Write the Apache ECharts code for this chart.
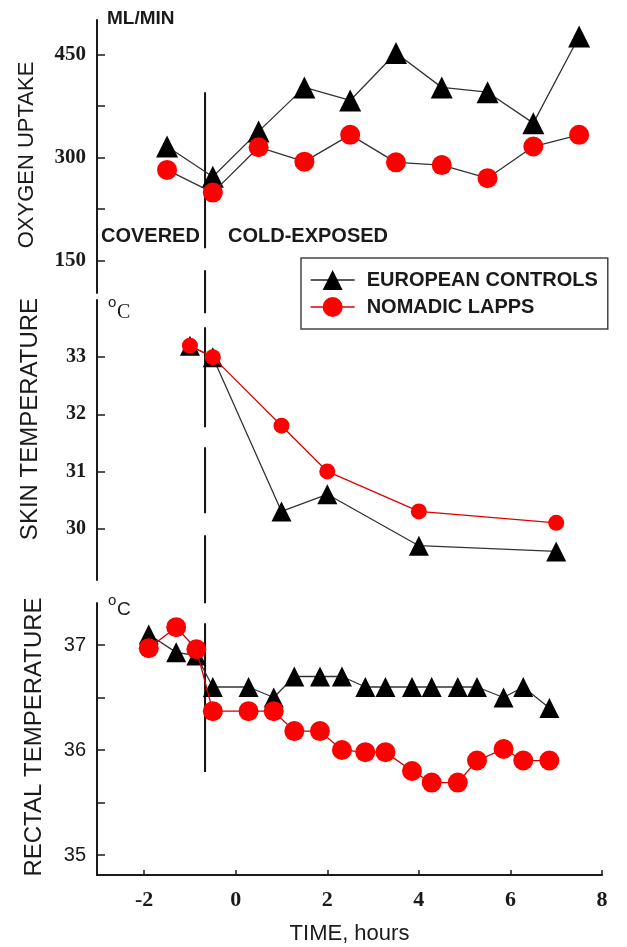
<!DOCTYPE html>
<html>
<head>
<meta charset="utf-8">
<script src="https://cdn.jsdelivr.net/npm/echarts@6/dist/echarts.min.js"></script>
<style>
html,body{margin:0;padding:0;background:#fff;}
#chart{width:627px;height:947px;}
</style>
</head>
<body>
<div id="chart"></div>
<script>
// ---- data ----
const legendNames = ['EUROPEAN CONTROLS', 'NOMADIC LAPPS'];

// Oxygen uptake (ML/MIN)
const o2Time = [-1.5, -0.5, 0.5, 1.5, 2.5, 3.5, 4.5, 5.5, 6.5, 7.5];
const o2Euro = [316, 272, 338, 402, 383, 452, 402, 395, 350, 476];
const o2Lapp = [282, 249, 315, 294, 333, 293, 289, 270, 316, 333];

// Skin temperature (°C)
const skinTime = [-1.0, -0.5, 1, 2, 4, 7];
const skinEuro = [33.2, 33.0, 30.3, 30.6, 29.7, 29.6];
const skinLapp = [33.2, 33.0, 31.8, 31.0, 30.3, 30.1];

// Rectal temperature (°C)
const rectTime = [-1.9, -1.3, -0.86, -0.5, 0.28, 0.83, 1.28, 1.84, 2.32, 2.83, 3.27, 3.85, 4.28, 4.85, 5.27, 5.85, 6.28, 6.85];
const rectEuro = [37.1, 36.93, 36.9, 36.6, 36.6, 36.5, 36.7, 36.7, 36.7, 36.6, 36.6, 36.6, 36.6, 36.6, 36.6, 36.5, 36.6, 36.4];
const rectLapp = [36.97, 37.17, 36.96, 36.37, 36.37, 36.37, 36.18, 36.18, 36.0, 35.98, 35.98, 35.8, 35.69, 35.69, 35.9, 36.01, 35.9, 35.9];

// ticks / labels
const xTicks = [-2, 0, 2, 4, 6, 8];
const o2Ticks = [150, 225, 300, 375, 450];
const o2Labels = [150, 300, 450];
const skinTicks = [30, 31, 32, 33];
const rectTicks = [35, 35.5, 36, 36.5, 37];
const rectLabels = [35, 36, 37];

// exposure boundary (hours) and extent of the marker line
const boundaryTime = -0.67;
const boundaryTopO2 = 395;
const boundaryBottomRect = 35.79;

// ---- chart ----
const pair = (xs, ys) => xs.map((x, i) => [x, ys[i]]);
const chart = echarts.init(document.getElementById('chart'), null, {renderer: 'canvas'});

const SANS = '"Liberation Sans", Arial, sans-serif';
const SERIF = '"Liberation Serif", "Times New Roman", serif';
const INK = '#1a1a1a';

function xAxisDef(idx, show) {
  return {
    type: 'value', gridIndex: idx, min: -3.03, max: 8,
    show: show,
    axisLine: {show: show, onZero: false, lineStyle: {color: INK, width: 2}},
    axisTick: {show: show, inside: true, length: 5, customValues: xTicks, lineStyle: {color: INK, width: 1.5}},
    axisLabel: {show: show, customValues: xTicks, margin: 14, fontFamily: SERIF, fontWeight: 'bold', fontSize: 22, color: INK},
    splitLine: {show: false},
    name: show ? 'TIME, hours' : '',
    nameLocation: 'middle', nameGap: 48,
    nameTextStyle: {fontFamily: SANS, fontSize: 22, color: INK}
  };
}
function yAxisDef(idx, min, max, ticks, labels, font, fsize, weight) {
  return {
    type: 'value', gridIndex: idx, min: min, max: max,
    axisLine: {show: true, onZero: false, lineStyle: {color: INK, width: 2}},
    axisTick: {show: true, inside: true, length: 8, customValues: ticks, lineStyle: {color: INK, width: 1.5}},
    axisLabel: {customValues: labels, margin: 11, fontFamily: font, fontSize: fsize, fontWeight: weight, color: INK},
    splitLine: {show: false}
  };
}

const blackLine = {color: '#333', width: 1.3};
const option = {
  backgroundColor: '#fff',
  animation: false,
  grid: [
    {left: 97, right: 25, top: 20, height: 273},
    {left: 97, right: 25, top: 300, height: 280},
    {left: 97, right: 25, top: 603, height: 272}
  ],
  xAxis: [xAxisDef(0, false), xAxisDef(1, false), xAxisDef(2, true)],
  yAxis: [
    yAxisDef(0, 103, 500, o2Ticks, o2Labels, SERIF, 21, 'bold'),
    yAxisDef(1, 29.1, 34, skinTicks, skinTicks, SERIF, 20, 'bold'),
    yAxisDef(2, 34.81, 37.4, rectTicks, rectLabels, SANS, 20, 'normal')
  ],
  legend: {
    orient: 'vertical', left: 301, top: 258,
    padding: [12, 10, 12, 9], itemGap: 7,
    itemWidth: 44, itemHeight: 25,
    borderColor: '#444', borderWidth: 1.5,
    textStyle: {fontFamily: SANS, fontWeight: 'bold', fontSize: 20, color: INK, padding: [0, 0, 0, 7]},
    data: [
      {name: legendNames[0], itemStyle: {color: '#000'}, lineStyle: {color: '#222', width: 1.3}},
      {name: legendNames[1], itemStyle: {color: '#ff0000'}, lineStyle: {color: '#e00000', width: 1.3}}
    ]
  },
  series: [
    {name: legendNames[0], type: 'line', xAxisIndex: 0, yAxisIndex: 0, data: pair(o2Time, o2Euro),
     symbol: 'triangle', symbolSize: 22, itemStyle: {color: '#000'}, lineStyle: blackLine, z: 3},
    {name: legendNames[1], type: 'line', xAxisIndex: 0, yAxisIndex: 0, data: pair(o2Time, o2Lapp),
     symbol: 'circle', symbolSize: 20, itemStyle: {color: '#ff0000'}, lineStyle: blackLine, z: 4},
    {name: legendNames[0], type: 'line', xAxisIndex: 1, yAxisIndex: 1, data: pair(skinTime, skinEuro),
     symbol: 'triangle', symbolSize: 20, itemStyle: {color: '#000'}, lineStyle: blackLine, z: 3},
    {name: legendNames[1], type: 'line', xAxisIndex: 1, yAxisIndex: 1, data: pair(skinTime, skinLapp),
     symbol: 'circle', symbolSize: 16, itemStyle: {color: '#ff0000'}, lineStyle: {color: '#e00000', width: 1.3}, z: 4},
    {name: legendNames[0], type: 'line', xAxisIndex: 2, yAxisIndex: 2, data: pair(rectTime, rectEuro),
     symbol: 'triangle', symbolSize: 20, itemStyle: {color: '#000'}, lineStyle: blackLine, z: 3},
    {name: legendNames[1], type: 'line', xAxisIndex: 2, yAxisIndex: 2, data: pair(rectTime, rectLapp),
     symbol: 'circle', symbolSize: 20, itemStyle: {color: '#ff0000'}, lineStyle: {color: '#d00000', width: 1.3}, z: 4}
  ],
  graphic: [
    {type: 'text', id: 'tO2', x: 27, y: 155, rotation: Math.PI / 2,
     style: {text: 'OXYGEN UPTAKE', font: '22px ' + SANS, fill: INK, align: 'center', verticalAlign: 'middle'}},
    {type: 'text', id: 'tSkin', x: 30, y: 419, rotation: Math.PI / 2,
     style: {text: 'SKIN TEMPERATURE', font: '24px ' + SANS, fill: INK, align: 'center', verticalAlign: 'middle'}},
    {type: 'text', id: 'tRect', x: 34, y: 737, rotation: Math.PI / 2,
     style: {text: 'RECTAL TEMPERATURE', font: '24px ' + SANS, fill: INK, align: 'center', verticalAlign: 'middle'}},
    {type: 'text', id: 'uO2', x: 107, y: 19,
     style: {text: 'ML/MIN', font: 'bold 19px ' + SANS, fill: INK, align: 'left', verticalAlign: 'middle'}},
    {type: 'text', id: 'uSkinO', x: 108, y: 303,
     style: {text: 'o', font: '15px ' + SANS, fill: INK, align: 'left', verticalAlign: 'middle'}},
    {type: 'text', id: 'uSkinC', x: 117, y: 313,
     style: {text: 'C', font: '20px ' + SERIF, fill: INK, align: 'left', verticalAlign: 'middle'}},
    {type: 'text', id: 'uRectO', x: 108, y: 601,
     style: {text: 'o', font: '15px ' + SANS, fill: INK, align: 'left', verticalAlign: 'middle'}},
    {type: 'text', id: 'uRectC', x: 117, y: 610,
     style: {text: 'C', font: '19px ' + SANS, fill: INK, align: 'left', verticalAlign: 'middle'}},
    {type: 'text', id: 'covered', x: 101, y: 236,
     style: {text: 'COVERED', font: 'bold 20px ' + SANS, fill: INK, align: 'left', verticalAlign: 'middle'}},
    {type: 'text', id: 'cold', x: 228, y: 236,
     style: {text: 'COLD-EXPOSED', font: 'bold 20px ' + SANS, fill: INK, align: 'left', verticalAlign: 'middle'}}
  ]
};
chart.setOption(option);

// boundary line from the top panel down into the bottom panel
const pTop = chart.convertToPixel({gridIndex: 0}, [boundaryTime, boundaryTopO2]);
const pBot = chart.convertToPixel({gridIndex: 2}, [boundaryTime, boundaryBottomRect]);
chart.setOption({
  graphic: [{
    type: 'line', id: 'boundary', z: 2,
    shape: {x1: pTop[0], y1: pTop[1], x2: pBot[0], y2: pBot[1]},
    style: {stroke: '#111', lineWidth: 2, lineDash: [156, 22, 43, 14, 100, 20, 66, 22, 68, 20, 149, 0]}
  }]
});
</script>
</body>
</html>
